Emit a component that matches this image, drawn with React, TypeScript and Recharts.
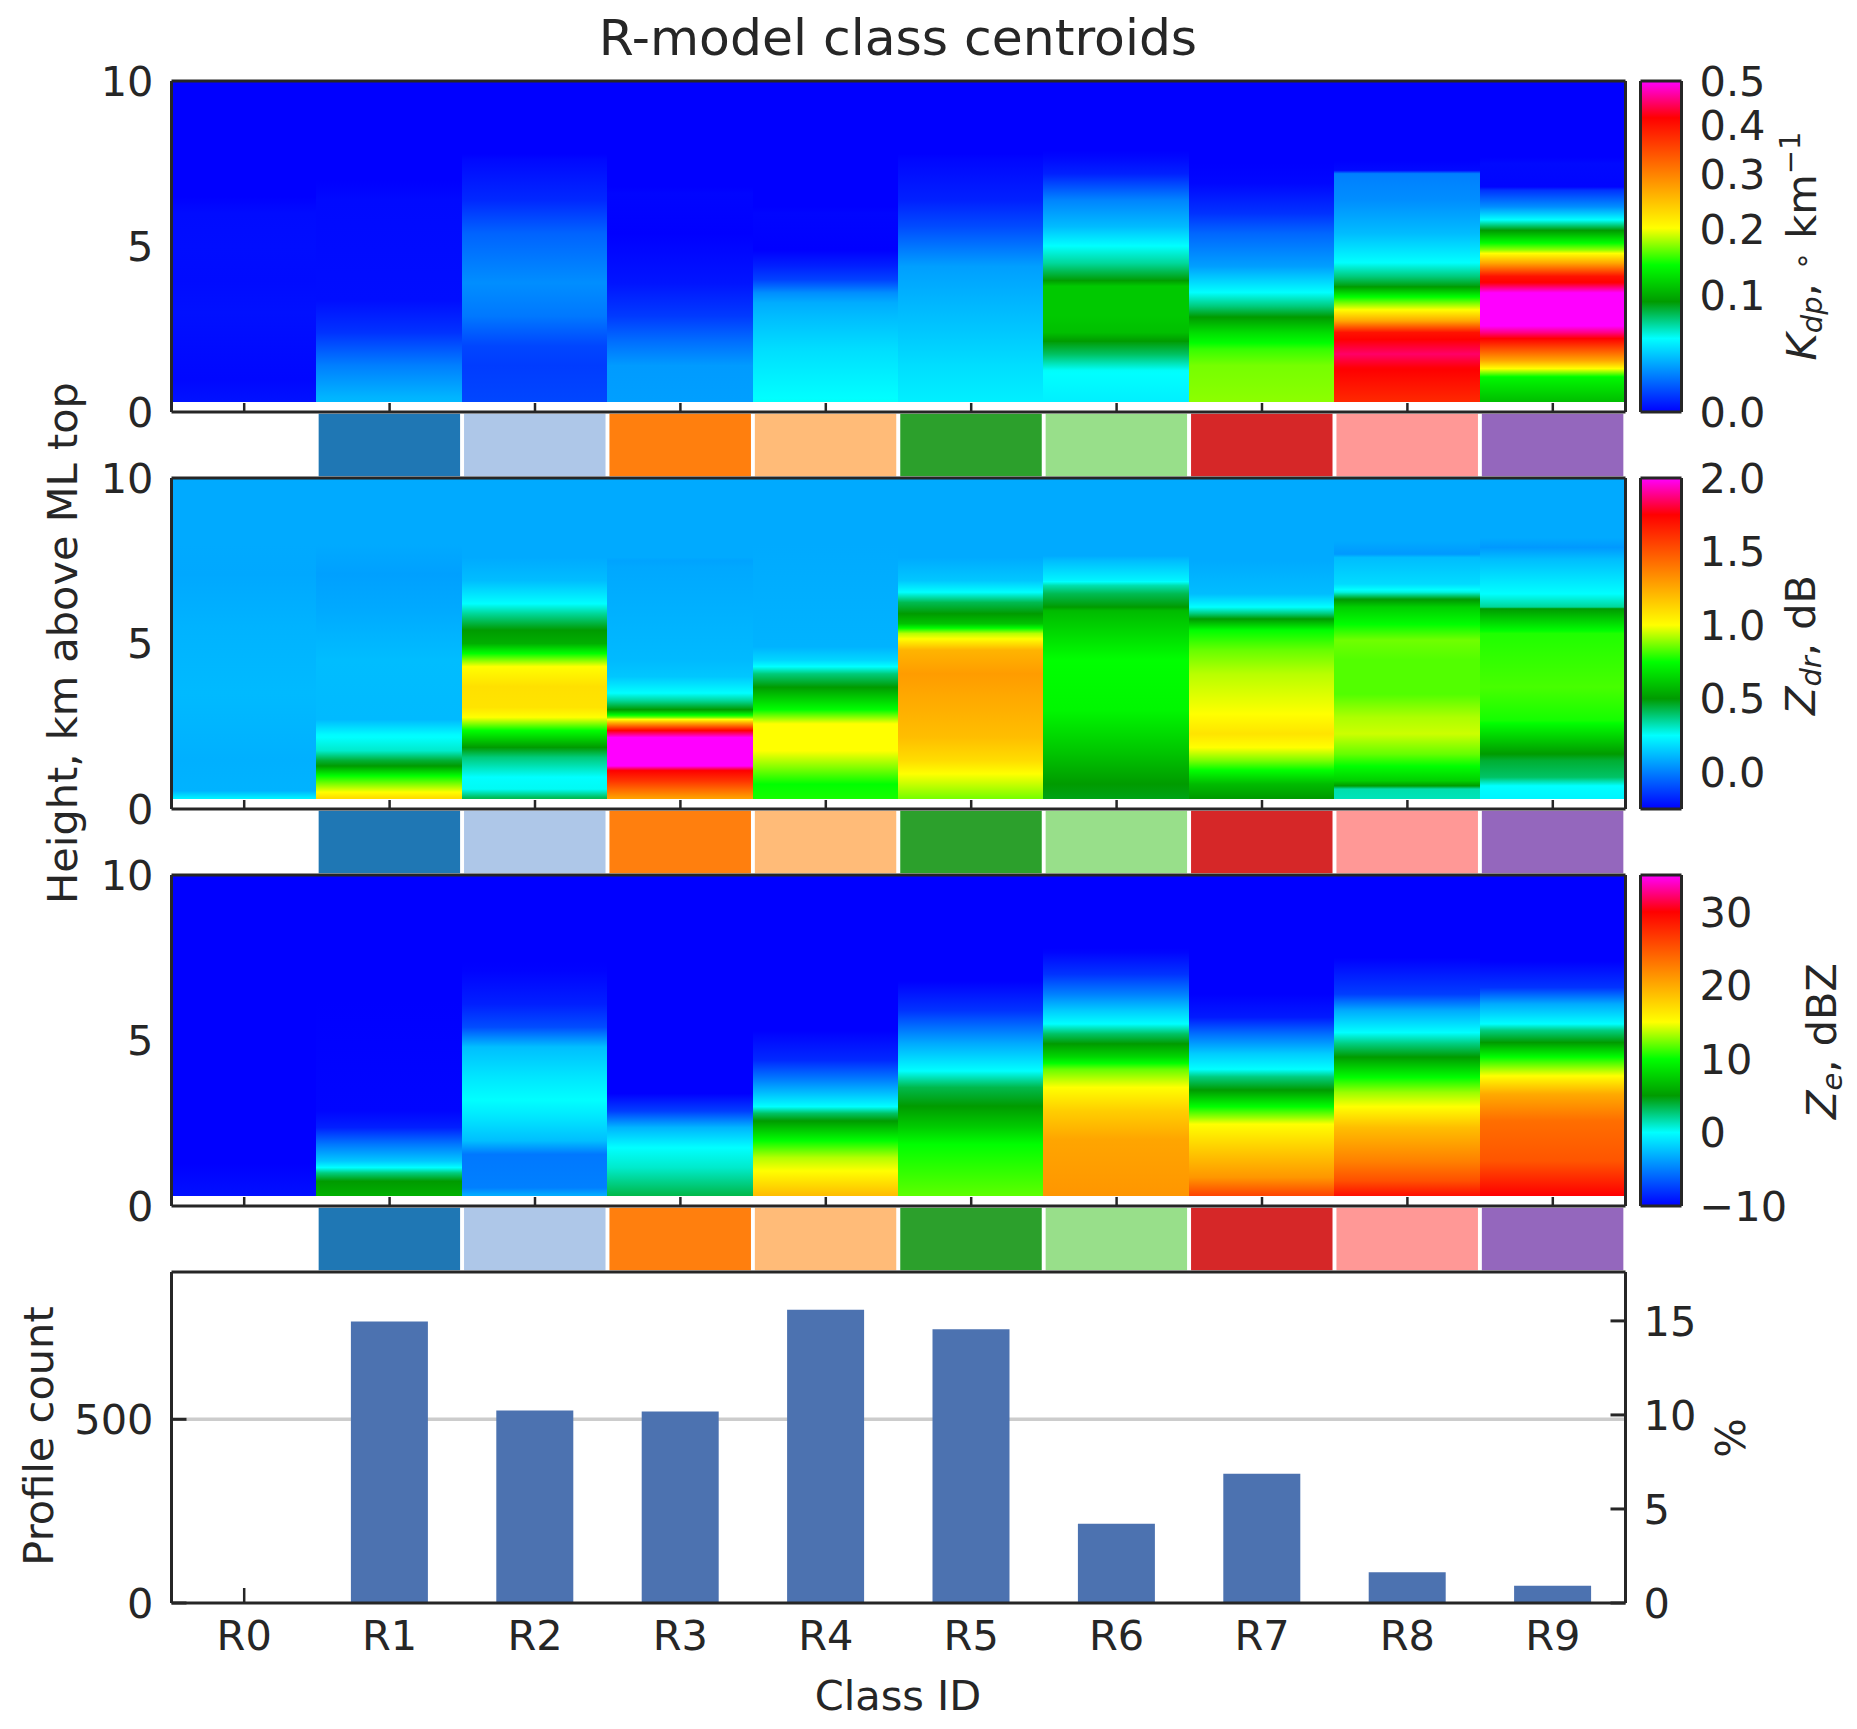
import { Bar, BarChart, CartesianGrid, Cell, ComposedChart, Line, XAxis, YAxis } from 'recharts';

type Profile = [number, number][]; // [height km, value]

const CLASS_IDS = ['R0', 'R1', 'R2', 'R3', 'R4', 'R5', 'R6', 'R7', 'R8', 'R9'];
const CLASS_COLORS = ['none', '#1f77b4', '#aec7e8', '#ff7f0e', '#ffbb78', '#2ca02c', '#98df8a', '#d62728', '#ff9896', '#9467bd'];
const PROFILE_COUNTS = [0, 766, 524, 521, 798, 745, 216, 352, 84, 47];
const PROFILE_PERCENTS = [0, 15, 10.2, 10.2, 15.6, 14.6, 4.2, 6.9, 1.6, 0.9];

const COUNT_TICKS = [0, 500];
const PERCENT_TICKS = [0, 5, 10, 15];
const HEIGHT_TICKS = [0, 5, 10];
const KDP_TICKS = [0, 0.1, 0.2, 0.3, 0.4, 0.5];
const ZDR_TICKS = [0, 0.5, 1, 1.5, 2];
const ZE_TICKS = [-10, 0, 10, 20, 30];

// Kdp centroids, deg/km
const KDP_R0: Profile = [[0.33, 0.0008], [1, 0.0002], [2, 0.0004], [3, 0.0007], [4, 0.0004], [5, 0.0005], [6, 0.0004], [6.5, 0]];
const KDP_R1: Profile = [[0.33, 0.03], [0.45, 0.029], [1.4, 0.017], [2.4, 0.004], [3.4, 0.0005], [6.4, 0.0003], [7, 0]];
const KDP_R2: Profile = [[0.33, 0.0068], [1.4, 0.0053], [2, 0.0068], [2.9, 0.0155], [3.9, 0.02], [5.4, 0.0116], [6.4, 0.0029], [7.6, 0.0003], [7.8, 0]];
const KDP_R3: Profile = [[0.33, 0.024], [1.4, 0.023], [2.1, 0.014], [2.9, 0.005], [3.9, 0.001], [5.4, 0], [6.6, 0.0001], [6.8, 0]];
const KDP_R4: Profile = [[0.33, 0.05], [1.9, 0.04], [2.9, 0.031], [3.3, 0.027], [3.6, 0.02], [3.8, 0.012], [4, 0.006], [4.4, 0.002], [4.9, 0], [6, 0.0001], [6.2, 0]];
const KDP_R5: Profile = [[0.33, 0.045], [1.4, 0.04], [2.4, 0.034], [3.4, 0.029], [4.4, 0.024], [5.6, 0.0075], [6.4, 0.002], [7.6, 0.0002], [7.8, 0]];
const KDP_R6: Profile = [[0.33, 0.045], [1.25, 0.05], [1.75, 0.075], [2.1, 0.09], [2.4, 0.11], [2.9, 0.115], [3.8, 0.115], [4, 0.09], [4.5, 0.065], [5, 0.05], [5.6, 0.031], [6.4, 0.018], [7.2, 0.002], [7.7, 0.0002], [7.9, 0]];
const KDP_R7: Profile = [[0.33, 0.175], [1.4, 0.17], [1.9, 0.155], [2.4, 0.125], [2.9, 0.09], [3.2, 0.07], [3.6, 0.05], [4.4, 0.024], [5.4, 0.012], [6, 0.004], [6.9, 0.0002], [7.5, 0]];
const KDP_R8: Profile = [[0.33, 0.38], [1.35, 0.42], [1.75, 0.45], [2.15, 0.42], [2.4, 0.4], [2.75, 0.27], [3.1, 0.2], [3.5, 0.14], [3.8, 0.09], [4.1, 0.07], [4.5, 0.05], [5.4, 0.031], [6.4, 0.02], [7.2, 0.017], [7.3, 0.0003], [7.6, 0]];
const KDP_R9: Profile = [[0.33, 0.11], [1.05, 0.14], [1.3, 0.2], [1.55, 0.27], [2.1, 0.39], [2.4, 0.46], [2.6, 0.5], [3.6, 0.5], [3.9, 0.42], [4.1, 0.4], [4.5, 0.27], [4.8, 0.2], [4.9, 0.175], [5.2, 0.13], [5.5, 0.09], [5.8, 0.05], [6.2, 0.02], [6.7, 0.004], [6.8, 0.0001], [7.5, 0.0003], [7.7, 0]];
const KDP_PROFILES = [KDP_R0, KDP_R1, KDP_R2, KDP_R3, KDP_R4, KDP_R5, KDP_R6, KDP_R7, KDP_R8, KDP_R9];

// Zdr centroids, dB
const ZDR_R0: Profile = [[0.33, 0.22], [0.55, 0.1], [1.5, 0.095], [3.5, 0.115], [5.5, 0.1], [7.1, 0.08], [8, 0.083]];
const ZDR_R1: Profile = [[0.33, 1.1], [0.6, 0.95], [1, 0.75], [1.3, 0.5], [1.46, 0.45], [1.76, 0.3], [2.25, 0.24], [2.7, 0.115], [4.5, 0.12], [6, 0.083], [7.1, 0.064], [8, 0.083]];
const ZDR_R2: Profile = [[0.33, 0.42], [0.6, 0.26], [0.96, 0.25], [1.56, 0.38], [1.86, 0.5], [2.37, 0.75], [2.77, 1], [3.07, 1.08], [3.7, 1.09], [4.3, 1], [4.7, 0.75], [5, 0.55], [5.4, 0.5], [5.9, 0.35], [6.2, 0.25], [6.9, 0.12], [7.6, 0.083]];
const ZDR_R3: Profile = [[0.33, 1.28], [0.85, 1.6], [1.16, 1.75], [1.3, 2], [2.16, 2], [2.37, 1.75], [2.6, 1.25], [2.77, 0.85], [3, 0.5], [3.27, 0.35], [3.5, 0.25], [4, 0.14], [4.5, 0.115], [7.3, 0.08], [7.5, 0.07], [7.6, 0.083]];
const ZDR_R4: Profile = [[0.33, 0.77], [0.75, 0.75], [1.26, 0.88], [1.76, 1], [2.57, 1], [3, 0.75], [3.47, 0.58], [3.68, 0.5], [4.08, 0.38], [4.3, 0.25], [4.5, 0.17], [4.9, 0.1], [8, 0.083]];
const ZDR_R5: Profile = [[0.33, 0.87], [1.06, 1], [1.46, 1.1], [2.17, 1.19], [3.47, 1.26], [4.08, 1.29], [4.8, 1.22], [5.14, 1], [5.3, 0.93], [5.6, 0.6], [5.9, 0.5], [6.24, 0.42], [6.55, 0.25], [6.9, 0.14], [7.6, 0.083]];
const ZDR_R6: Profile = [[0.33, 0.48], [0.75, 0.5], [1.66, 0.6], [3, 0.73], [4.5, 0.75], [5.99, 0.58], [6.1, 0.5], [6.5, 0.42], [6.75, 0.33], [6.9, 0.23], [7.5, 0.12], [7.65, 0.083]];
const ZDR_R7: Profile = [[0.33, 0.5], [0.75, 0.58], [1.46, 0.87], [1.86, 1], [2.27, 1.08], [2.87, 1], [4.08, 0.93], [4.8, 0.85], [5.39, 0.75], [5.74, 0.5], [5.9, 0.38], [6.1, 0.25], [6.5, 0.12], [7.5, 0.083]];
const ZDR_R8: Profile = [[0.33, 0.32], [0.6, 0.33], [0.7, 0.5], [0.85, 0.63], [1.66, 0.85], [2.27, 0.95], [2.77, 0.92], [3.47, 0.83], [4.5, 0.83], [5.1, 0.86], [6.1, 0.63], [6.35, 0.48], [6.55, 0.28], [6.8, 0.18], [7.6, 0.12], [7.7, 0.05], [8.1, 0.083]];
const ZDR_R9: Profile = [[0.33, 0.23], [0.7, 0.25], [0.96, 0.4], [1.46, 0.45], [1.66, 0.5], [2.67, 0.77], [3.68, 0.82], [5.3, 0.78], [6.05, 0.5], [6.1, 0.35], [6.5, 0.25], [7.55, 0.12], [7.9, 0.05], [8.2, 0.083]];
const ZDR_PROFILES = [ZDR_R0, ZDR_R1, ZDR_R2, ZDR_R3, ZDR_R4, ZDR_R5, ZDR_R6, ZDR_R7, ZDR_R8, ZDR_R9];

// Ze centroids, dBZ
const ZE_R0: Profile = [[0.33, -9.4], [1.3, -10]];
const ZE_R1: Profile = [[0.33, 6], [0.75, 5], [1, 2.5], [1.16, 0], [1.36, -2.2], [1.86, -5.3], [2.37, -8.8], [2.87, -9.8], [6.2, -10]];
const ZE_R2: Profile = [[0.33, -3.3], [0.55, -5], [1.56, -5.3], [1.97, -2.5], [2.67, -1], [3.2, 0], [3.9, -1], [4.8, -2.5], [5.4, -7], [6.1, -8.8], [7.1, -9.9], [7.4, -10]];
const ZE_R3: Profile = [[0.33, 3.5], [1.16, 1], [1.76, 0], [2.37, -2.9], [2.87, -7.6], [3.4, -10]];
const ZE_R4: Profile = [[0.33, 18.8], [1.06, 15], [1.46, 13.5], [1.97, 10], [2.57, 5], [2.8, 3], [3, 0], [3.8, -5], [4.4, -8.4], [5.3, -10]];
const ZE_R5: Profile = [[0.33, 11.8], [1.86, 10], [2.37, 7.5], [3.02, 5], [3.58, 3.5], [4.08, 0], [4.9, -3.3], [5.9, -8], [6.8, -10]];
const ZE_R6: Profile = [[0.33, 21.2], [2, 20.3], [2.87, 17.9], [3.58, 15], [4.13, 12], [4.5, 8], [4.9, 5], [5.2, 3], [5.5, 0], [5.9, -2], [6.4, -5], [7, -8], [7.66, -9.8], [7.8, -10]];
const ZE_R7: Profile = [[0.33, 25.9], [0.86, 21.2], [1.86, 17.4], [2.47, 15], [2.67, 13], [3, 10], [3.5, 5], [3.9, 2.5], [4.13, 0], [4.6, -2], [5.2, -5.7], [5.7, -9], [6.4, -10]];
const ZE_R8: Profile = [[0.33, 29], [0.76, 25.3], [1.36, 22.4], [2.37, 18.8], [3, 15], [3.43, 13], [3.88, 10], [4.5, 5], [4.9, 2.5], [5.24, 0], [5.9, -3.3], [6.4, -7.6], [7.5, -10]];
const ZE_R9: Profile = [[0.33, 30], [1.36, 25], [2.57, 23.5], [3.38, 20], [3.93, 15], [4.5, 10], [4.94, 5], [5.3, 2.5], [5.5, 0], [6.1, -3.3], [6.6, -8], [7.4, -10]];
const ZE_PROFILES = [ZE_R0, ZE_R1, ZE_R2, ZE_R3, ZE_R4, ZE_R5, ZE_R6, ZE_R7, ZE_R8, ZE_R9];

const BASE = 0.33;
const TOP = 10;
const INK = '#262626';
const FONT = '"DejaVu Sans", sans-serif';
const TICK_SIZE = 41.5;
const PLOT_LEFT = 171.5;
const RIGHT_GAP = 14.5;
const PAD = 30;
const PLOT_H = 331;
const BAR_BLUE = '#4c72b0';

// positions along the colormap
const CMAP: [number, number[]][] = [
  [0, [0, 0, 255]],
  [2 / 9, [0, 255, 255]],
  [3 / 9, [0, 155, 0]],
  [4 / 9, [0, 255, 0]],
  [5 / 9, [255, 255, 0]],
  [8 / 9, [255, 0, 0]],
  [1, [255, 0, 255]],
];

const colorAt = (p: number) => {
  const t = Math.min(Math.max(p, 0), 1);
  for (let i = 1; i < CMAP.length; i++) {
    const [p0, c0] = CMAP[i - 1];
    const [p1, c1] = CMAP[i];
    if (t <= p1) {
      const f = (t - p0) / (p1 - p0);
      return `rgb(${c0.map((c, k) => Math.round(c + (c1[k] - c) * f)).join(',')})`;
    }
  }
  return 'rgb(255,0,255)';
};

const kdpPos = (v: number) => Math.pow(Math.max(v, 0) / 0.5, 0.65);
const zdrPos = (v: number) => (v + 0.25) / 2.25;
const zePos = (v: number) => (v + 10) / 45;

const profileStops = (profile: Profile, toPos: (v: number) => number) => {
  const stops: { offset: number; color: string }[] = [];
  const at = (h: number) => (h - BASE) / (TOP - BASE);
  profile.forEach(([h, v], i) => {
    const p = toPos(v);
    stops.push({ offset: at(h), color: colorAt(p) });
    if (i === profile.length - 1) return;
    // keep the colormap's own corners between two levels
    const [h2, v2] = profile[i + 1];
    const p2 = toPos(v2);
    const corners = CMAP.map((c) => c[0]).filter((c) => (c > p && c < p2) || (c < p && c > p2));
    if (p2 < p) corners.reverse();
    corners.forEach((c) => {
      stops.push({ offset: at(h + ((c - p) / (p2 - p)) * (h2 - h)), color: colorAt(c) });
    });
  });
  return stops;
};

const HEAT_ROWS = CLASS_IDS.map((name) => ({ name, span: [BASE, TOP] }));
const SWATCH_ROWS = CLASS_IDS.map((name) => ({ name, on: 1 }));
const COUNT_ROWS = CLASS_IDS.map((name, i) => ({ name, count: PROFILE_COUNTS[i], percent: PROFILE_PERCENTS[i] }));

const frame = { stroke: INK, strokeWidth: 3 };
const frameAxis = { axisLine: frame, stroke: INK, strokeWidth: 3, tickLine: false };
const numStyle = { fontFamily: FONT, fontSize: TICK_SIZE, fill: INK, stroke: 'none' };

const Swatches = ({ top }: { top: number }) => (
  <div style={{ position: 'absolute', left: 0, top }}>
    <BarChart width={1640} height={66} data={SWATCH_ROWS} barCategoryGap={0} margin={{ top: 0, right: RIGHT_GAP, bottom: 0, left: PLOT_LEFT }}>
      <XAxis dataKey="name" hide />
      <YAxis hide domain={[0, 1]} />
      <Bar dataKey="on" isAnimationActive={false}>
        {CLASS_COLORS.map((c, i) => (
          <Cell key={i} fill={c} stroke={c === 'none' ? 'none' : '#fff'} strokeWidth={3.5} />
        ))}
      </Bar>
    </BarChart>
  </div>
);

const InnerTick = ({ x, y }: any) => <line x1={x} y1={y} x2={x} y2={y - 9} stroke={INK} strokeWidth={2.5} />;

const HeatPanel = ({ id, top, profiles, toPos }: { id: string; top: number; profiles: Profile[]; toPos: (v: number) => number }) => (
  <div style={{ position: 'absolute', left: 0, top: top - PAD }}>
    <BarChart width={1640} height={PLOT_H + 2 * PAD} data={HEAT_ROWS} barCategoryGap={0} margin={{ top: 0, right: 0, bottom: 0, left: 0 }}>
      <defs>
        {profiles.map((profile, i) => (
          <linearGradient key={i} id={`${id}-${i}`} x1="0" y1="1" x2="0" y2="0">
            {profileStops(profile, toPos).map((s, k) => (
              <stop key={k} offset={s.offset} stopColor={s.color} />
            ))}
          </linearGradient>
        ))}
      </defs>
      <Bar xAxisId="b" yAxisId="l" dataKey="span" isAnimationActive={false}>
        {HEAT_ROWS.map((_, i) => (
          <Cell key={i} fill={`url(#${id}-${i})`} stroke={`url(#${id}-${i})`} strokeWidth={1} shapeRendering="crispEdges" />
        ))}
      </Bar>
      <XAxis xAxisId="b" dataKey="name" height={PAD} interval={0} {...frameAxis} tickSize={0} tickMargin={0} tick={<InnerTick />} />
      <XAxis xAxisId="t" dataKey="name" orientation="top" height={PAD} {...frameAxis} tick={false} />
      <YAxis yAxisId="l" width={PLOT_LEFT} domain={[0, TOP]} ticks={HEIGHT_TICKS} interval={0} {...frameAxis} tickSize={0} tickMargin={18} tick={numStyle} />
      <YAxis yAxisId="r" orientation="right" width={RIGHT_GAP} domain={[0, TOP]} {...frameAxis} tick={false} />
    </BarChart>
  </div>
);

const ColorBar = ({ id, top, ticks, toPos, format }: { id: string; top: number; ticks: number[]; toPos: (v: number) => number; format: (v: number) => string }) => (
  <div style={{ position: 'absolute', left: 1625, top: top - PAD }}>
    <BarChart width={232} height={PLOT_H + 2 * PAD} data={[{ name: 'scale', span: [0, 1] }]} barCategoryGap={0} margin={{ top: 0, right: 0, bottom: 0, left: 0 }}>
      <defs>
        <linearGradient id={id} x1="0" y1="1" x2="0" y2="0">
          {CMAP.map(([p], i) => (
            <stop key={i} offset={p} stopColor={colorAt(p)} />
          ))}
        </linearGradient>
      </defs>
      <Bar xAxisId="b" yAxisId="r" dataKey="span" fill={`url(#${id})`} isAnimationActive={false} />
      <XAxis xAxisId="b" dataKey="name" height={PAD} {...frameAxis} tick={false} />
      <XAxis xAxisId="t" dataKey="name" orientation="top" height={PAD} {...frameAxis} tick={false} />
      <YAxis yAxisId="l" width={15.5} domain={[0, 1]} {...frameAxis} tick={false} />
      <YAxis
        yAxisId="r"
        orientation="right"
        width={175.5}
        type="number"
        domain={[0, 1]}
        ticks={ticks.map(toPos)}
        interval={0}
        {...frameAxis}
        tickSize={0}
        tickMargin={18}
        tick={{ ...numStyle, textAnchor: 'start' }}
        tickFormatter={(_: number, i: number) => format(ticks[i])}
      />
    </BarChart>
  </div>
);

// the axis now sits above the bars, so only empty classes show their tick
const CountTickX = ({ x, y, payload, index }: any) => (
  <g>
    {PROFILE_COUNTS[index] === 0 && <line x1={x} y1={y} x2={x} y2={y - 15} stroke={INK} strokeWidth={2.5} />}
    <text x={x} y={y + 47} textAnchor="middle" {...numStyle}>{payload.value}</text>
  </g>
);
const CountTickL = ({ x, y, payload }: any) => (
  <g>
    <line x1={x} y1={y} x2={x + 15} y2={y} stroke={INK} strokeWidth={3} />
    <text x={x - 18} y={y + 15} textAnchor="end" {...numStyle}>{payload.value}</text>
  </g>
);
const CountTickR = ({ x, y, payload }: any) => (
  <g>
    <line x1={x} y1={y} x2={x - 15} y2={y} stroke={INK} strokeWidth={3} />
    <text x={x + 18} y={y + 15} textAnchor="start" {...numStyle}>{payload.value}</text>
  </g>
);

const CountPanel = ({ top }: { top: number }) => (
  <div style={{ position: 'absolute', left: 0, top: top - PAD }}>
    <ComposedChart width={1720} height={PLOT_H + PAD + 60} data={COUNT_ROWS} barSize={77} margin={{ top: 0, right: 0, bottom: 0, left: 0 }}>
      <CartesianGrid yAxisId="l" xAxisId="b" vertical={false} horizontalValues={[500]} stroke="#cccccc" strokeWidth={3.5} />
      <Bar xAxisId="b" yAxisId="l" dataKey="count" fill={BAR_BLUE} isAnimationActive={false} />
      <Line xAxisId="b" yAxisId="r" dataKey="percent" stroke="none" dot={false} legendType="none" isAnimationActive={false} />
      <XAxis xAxisId="b" dataKey="name" height={60} interval={0} {...frameAxis} tickSize={0} tickMargin={0} tick={<CountTickX />} />
      <XAxis xAxisId="t" dataKey="name" orientation="top" height={PAD} {...frameAxis} tick={false} />
      <YAxis yAxisId="l" width={PLOT_LEFT} domain={[0, 901]} ticks={COUNT_TICKS} interval={0} {...frameAxis} tickSize={0} tickMargin={0} tick={<CountTickL />} />
      <YAxis yAxisId="r" orientation="right" width={RIGHT_GAP + 80} domain={[0, 17.6]} ticks={PERCENT_TICKS} interval={0} {...frameAxis} tickSize={0} tickMargin={0} tick={<CountTickR />} />
    </ComposedChart>
  </div>
);

const SMALL = 29;
const Titles = () => (
  <svg width={1857} height={1729} style={{ position: 'absolute', left: 0, top: 0, pointerEvents: 'none' }} fontFamily={FONT} fill={INK} fontSize={TICK_SIZE}>
    <text x={898} y={55} textAnchor="middle" fontSize={50.4}>R-model class centroids</text>
    <text x={898} y={1710} textAnchor="middle">Class ID</text>
    <text transform="translate(77,643) rotate(-90)" textAnchor="middle">Height, km above ML top</text>
    <text transform="translate(53,1436) rotate(-90)" textAnchor="middle">Profile count</text>
    <text transform="translate(1745,1438) rotate(-90)" textAnchor="middle">%</text>
    <text transform="translate(1816,246) rotate(-90)" textAnchor="middle">
      <tspan fontStyle="italic">K</tspan>
      <tspan fontStyle="italic" fontSize={SMALL} dy={6}>dp</tspan>
      <tspan dy={-6}>, </tspan>
      <tspan fontSize={SMALL} dy={-4}>∘</tspan>
      <tspan dy={4}> km</tspan>
      <tspan fontSize={SMALL} dy={-16}>−1</tspan>
    </text>
    <text transform="translate(1815,645) rotate(-90)" textAnchor="middle">
      <tspan fontStyle="italic">Z</tspan>
      <tspan fontStyle="italic" fontSize={SMALL} dy={6}>dr</tspan>
      <tspan dy={-6}>, dB</tspan>
    </text>
    <text transform="translate(1836,1041) rotate(-90)" textAnchor="middle">
      <tspan fontStyle="italic">Z</tspan>
      <tspan fontStyle="italic" fontSize={SMALL} dy={6}>e</tspan>
      <tspan dy={-6}>, dBZ</tspan>
    </text>
  </svg>
);

const fmt1 = (v: number) => v.toFixed(1);
const fmtInt = (v: number) => String(v).replace('-', '\u2212');

export default function App() {
  return (
    <div style={{ position: 'absolute', left: 0, top: 0, width: 1857, height: 1729, background: '#fff' }}>
      <Swatches top={412} />
      <Swatches top={809} />
      <Swatches top={1206} />
      <HeatPanel id="kdp" top={80.5} profiles={KDP_PROFILES} toPos={kdpPos} />
      <HeatPanel id="zdr" top={477.5} profiles={ZDR_PROFILES} toPos={zdrPos} />
      <HeatPanel id="ze" top={874.5} profiles={ZE_PROFILES} toPos={zePos} />
      <ColorBar id="kdp-bar" top={80.5} ticks={KDP_TICKS} toPos={kdpPos} format={fmt1} />
      <ColorBar id="zdr-bar" top={477.5} ticks={ZDR_TICKS} toPos={zdrPos} format={fmt1} />
      <ColorBar id="ze-bar" top={874.5} ticks={ZE_TICKS} toPos={zePos} format={fmtInt} />
      <CountPanel top={1271.5} />
      <Titles />
    </div>
  );
}
